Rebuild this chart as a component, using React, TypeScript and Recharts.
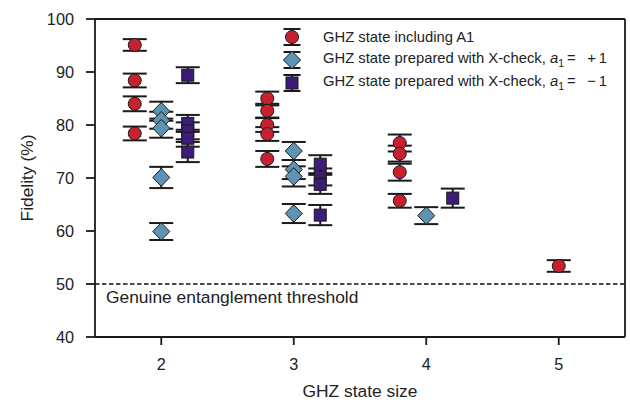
import {
  ScatterChart,
  Scatter,
  XAxis,
  YAxis,
  ErrorBar,
  ReferenceLine,
} from "recharts";

// GHZ state size ticks and fidelity ticks
const sizeTicks = [2, 3, 4, 5];
const fidelityTicks = [40, 50, 60, 70, 80, 90, 100];

// GHZ state including A1
const a1Size = [2, 2, 2, 2, 3, 3, 3, 3, 3, 4, 4, 4, 4, 5];
const a1Fidelity = [95.1, 88.4, 84.0, 78.4, 85.0, 82.7, 80.0, 78.3, 73.6, 76.6, 74.6, 71.1, 65.7, 53.4];
const a1Error = [1.1, 1.3, 1.4, 1.3, 1.3, 1.3, 1.3, 1.3, 1.5, 1.6, 1.5, 1.6, 1.3, 1.1];

// X-check, a1 = +1
const plusSize = [2, 2, 2, 2, 2, 3, 3, 3, 3, 4];
const plusFidelity = [82.6, 80.9, 79.4, 70.1, 59.9, 75.1, 71.6, 70.3, 63.3, 62.9];
const plusError = [1.8, 1.6, 1.8, 2.0, 1.6, 1.7, 1.8, 1.9, 1.8, 1.6];

// X-check, a1 = -1
const minusSize = [2, 2, 2, 2, 2, 3, 3, 3, 3, 4];
const minusFidelity = [89.4, 80.3, 78.9, 77.5, 74.9, 72.6, 70.2, 68.8, 63.0, 66.2];
const minusError = [1.5, 1.6, 1.6, 1.6, 1.9, 1.7, 1.6, 1.8, 1.9, 1.8];

const RED = "#c8202f";
const BLUE = "#5e93b4";
const PURPLE = "#3d1b78";
const INK = "#1a1a1a";
const FONT = "'Liberation Sans', Arial, Helvetica, sans-serif";

// sizes measured only with A1 sit on the tick, the rest are spread out
const build = (sizes: number[], vals: number[], errs: number[], offset: number) =>
  sizes.map((s, i) => ({
    x: plusSize.includes(s) ? s + offset : s,
    y: vals[i],
    err: errs[i],
  }));

const a1Data = build(a1Size, a1Fidelity, a1Error, -0.2);
const plusData = build(plusSize, plusFidelity, plusError, 0);
const minusData = build(minusSize, minusFidelity, minusError, 0.2);

const Circle = (p: any) => (
  <circle cx={p.cx} cy={p.cy} r={6.5} fill={RED} stroke={INK} strokeWidth={1} />
);
const Diamond = (p: any) => (
  <polygon
    points={`${p.cx},${p.cy - 8.8} ${p.cx + 8.5},${p.cy} ${p.cx},${p.cy + 8.8} ${p.cx - 8.5},${p.cy}`}
    fill={BLUE}
    stroke={INK}
    strokeWidth={1}
  />
);
const Square = (p: any) => (
  <rect x={p.cx - 6} y={p.cy - 6} width={12} height={12} fill={PURPLE} stroke={INK} strokeWidth={1} />
);

const legendItems = [
  { label: <>GHZ state including A1</>, marker: "circle" },
  {
    label: (
      <>
        GHZ state prepared with X-check, <i>a</i>
        <sub style={{ fontSize: 10.5 }}>1</sub>
        {"\u2009= \u2002+\u20091"}
      </>
    ),
    marker: "diamond",
  },
  {
    label: (
      <>
        GHZ state prepared with X-check, <i>a</i>
        <sub style={{ fontSize: 10.5 }}>1</sub>
        {"\u2009= \u2002\u2212\u20091"}
      </>
    ),
    marker: "square",
  },
];

const LegendIcon = ({ kind }: { kind: string }) => (
  <svg width={24} height={22} style={{ marginRight: 19, flex: "none" }}>
    <line x1={12} y1={3} x2={12} y2={19} stroke={INK} strokeWidth={2} />
    <line x1={3.5} y1={3} x2={20.5} y2={3} stroke={INK} strokeWidth={2} />
    <line x1={3.5} y1={19} x2={20.5} y2={19} stroke={INK} strokeWidth={2} />
    {kind === "circle" && <Circle cx={12} cy={11} />}
    {kind === "diamond" && <Diamond cx={12} cy={11} />}
    {kind === "square" && <Square cx={12} cy={11} />}
  </svg>
);

export default function App() {
  return (
    <div style={{ position: "absolute", left: 0, top: 0, width: 630, height: 403, background: "#fff" }}>
      <ScatterChart width={630} height={403} margin={{ top: 19, right: 5, bottom: 0, left: 0 }}>
        <XAxis
          type="number"
          dataKey="x"
          domain={[1.5, 5.5]}
          ticks={sizeTicks}
          height={66}
          tickSize={8}
          tickMargin={13}
          axisLine={{ stroke: INK, strokeWidth: 1.8 }}
          tickLine={{ stroke: INK, strokeWidth: 1.8 }}
          tick={{ fill: "#222", fontSize: 16.3, fontFamily: FONT }}
          label={() => (
            <text x={360} y={397} textAnchor="middle" fill="#222" fontSize={17.4} fontFamily={FONT}>
              GHZ state size
            </text>
          )}
        />
        <YAxis
          type="number"
          dataKey="y"
          domain={[40, 100]}
          ticks={fidelityTicks}
          width={95}
          tickSize={9}
          tickMargin={12}
          axisLine={{ stroke: INK, strokeWidth: 1.8 }}
          tickLine={{ stroke: INK, strokeWidth: 1.8 }}
          tick={{ fill: "#222", fontSize: 16.3, fontFamily: FONT }}
          label={() => (
            <text
              x={27}
              y={178}
              transform="rotate(-90 27 178)"
              textAnchor="middle"
              dominantBaseline="central"
              fill="#222"
              fontSize={17.4}
              fontFamily={FONT}
            >
              Fidelity (%)
            </text>
          )}
        />
        <ReferenceLine y={100} stroke={INK} strokeWidth={1.8} />
        <ReferenceLine x={5.5} stroke={INK} strokeWidth={1.8} />
        <ReferenceLine
          y={50}
          stroke="#111"
          strokeWidth={1.4}
          strokeDasharray="4.5 2.5"
          label={(p: any) => (
            <text
              x={p.viewBox.x + 11}
              y={p.viewBox.y + 19}
              fill="#222"
              fontSize={17.4}
              fontFamily={FONT}
            >
              Genuine entanglement threshold
            </text>
          )}
        />
        <Scatter data={a1Data} shape={Circle} isAnimationActive={false}>
          <ErrorBar dataKey="err" direction="y" width={12} stroke={INK} strokeWidth={2} isAnimationActive={false} />
        </Scatter>
        <Scatter data={plusData} shape={Diamond} isAnimationActive={false}>
          <ErrorBar dataKey="err" direction="y" width={12} stroke={INK} strokeWidth={2} isAnimationActive={false} />
        </Scatter>
        <Scatter data={minusData} shape={Square} isAnimationActive={false}>
          <ErrorBar dataKey="err" direction="y" width={12} stroke={INK} strokeWidth={2} isAnimationActive={false} />
        </Scatter>
      </ScatterChart>
      <div
        style={{
          position: "absolute",
          left: 280,
          top: 25,
          fontFamily: FONT,
          fontSize: 14.8,
          color: "#222",
          whiteSpace: "nowrap",
        }}
      >
        {legendItems.map((it, i) => (
          <div key={i} style={{ display: "flex", alignItems: "center", height: 23 }}>
            <LegendIcon kind={it.marker} />
            <span>{it.label}</span>
          </div>
        ))}
      </div>
    </div>
  );
}
